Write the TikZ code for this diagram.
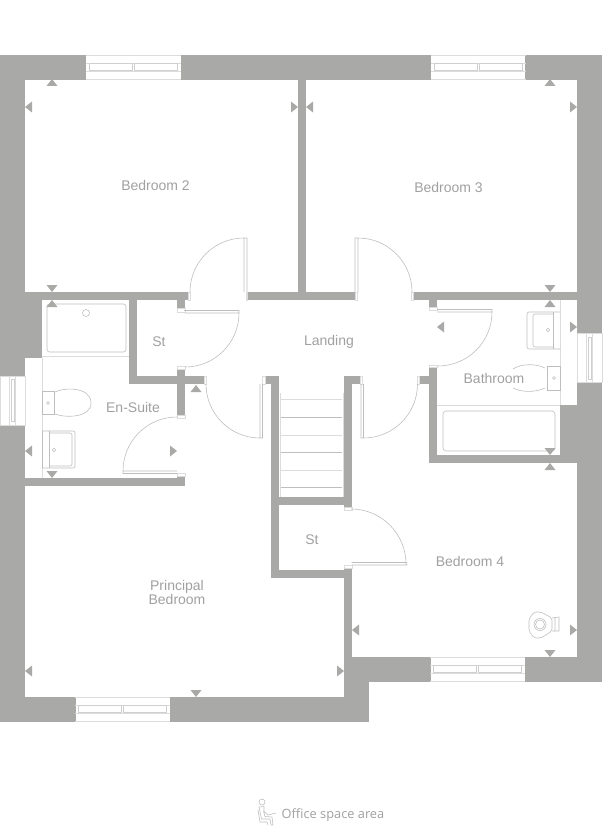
\documentclass[tikz,border=0pt]{standalone}
\usepackage{fontspec}
\setmainfont{Liberation Sans}
\newfontfamily\officefont{Open Sans}
\definecolor{wallgrey}{HTML}{A9A9A8}
\definecolor{textgrey}{HTML}{A0A0A0}
\definecolor{linegrey}{HTML}{BEBEBE}
\definecolor{palegrey}{HTML}{DCDCDC}
\definecolor{sashgrey}{HTML}{CFCFCF}
\tikzset{
  wall/.style={fill=wallgrey},
  fixture/.style={draw=linegrey,line width=.6pt},
  paleline/.style={draw=palegrey,line width=.9pt},
  sash/.style={draw=sashgrey,line width=.6pt},
  roomlabel/.style={text=textgrey,font=\fontsize{14}{14}\selectfont,align=center,inner sep=0pt},
  marker/.style={fill=wallgrey}
}
\begin{document}
\begin{tikzpicture}[x=1pt,y=-1pt]
\useasboundingbox (0,0) rectangle (602,826);

% outer walls
\fill[wall] (0,55) rectangle (86,80);
\fill[wall] (181,55) rectangle (431,80);
\fill[wall] (525,55) rectangle (602,80);
\fill[wall] (0,80) rectangle (25,376);
\fill[wall] (25,300) rectangle (42,358);
\fill[wall] (0,425) rectangle (25,722);
\fill[wall] (25,697) rectangle (76,722);
\fill[wall] (170,697) rectangle (369,722);
\fill[wall] (344,657) rectangle (369,697);
\fill[wall] (369,657) rectangle (431,682);
\fill[wall] (525,657) rectangle (602,682);
\fill[wall] (577,80) rectangle (602,333);
\fill[wall] (577,383) rectangle (602,657);

% inner walls
\fill[wall] (298,80) rectangle (306,300);
\fill[wall] (25,292) rectangle (188,300);
\fill[wall] (247,292) rectangle (355,300);
\fill[wall] (413,292) rectangle (577,300);
\fill[wall] (129,300) rectangle (137,384);
\fill[wall] (137,376) rectangle (204,384);
\fill[wall] (177,300) rectangle (185,308);
\fill[wall] (177,369) rectangle (185,415);
\fill[wall] (25,478) rectangle (185,486);
\fill[wall] (177,476) rectangle (185,478);
\fill[wall] (265,376) rectangle (279,384);
\fill[wall] (271,384) rectangle (279,578);
\fill[wall] (344,376) rectangle (360,384);
\fill[wall] (344,384) rectangle (352,507);
\fill[wall] (279,497) rectangle (344,505);
\fill[wall] (279,570) rectangle (344,578);
\fill[wall] (344,568) rectangle (352,657);
\fill[wall] (429,300) rectangle (437,307);
\fill[wall] (419,376) rectangle (429,384);
\fill[wall] (429,367) rectangle (437,463);
\fill[wall] (437,455) rectangle (577,463);
\fill[wall] (560,405) rectangle (577,455);

% door jambs
\foreach \jx/\jy/\kx/\ky in {188/292/190/300,246/292/247/300,355/292/357/300,411/292/413/300,
    177/308/185/312,177/366/185/369,177/415/185/418,177/473/185/476,204/376/206/384,
    262/376/265/384,360/376/362/384,417/376/419/384,429/365/437/367,429/307/437/310,
    344/507/352/510,344/565/352/568}
  \draw[paleline] (\jx,\jy) rectangle (\kx,\ky);

% doors
\draw[fixture] (190,292) arc (180:270:54) -- (247,238) -- (247,292) (244,238) -- (244,292);
\draw[fixture] (412,292) arc (0:-90:54) -- (355,238) -- (355,292) (358,238) -- (358,292);
\draw[fixture] (184,310.5) -- (239,310.5) -- (239,313) arc (0:90:54) (239,313) -- (185,313);
\draw[fixture] (177,417) arc (270:180:54) -- (123,473.5) -- (177,473.5) (123,471) -- (177,471);
\draw[fixture] (206,384) arc (180:90:54) -- (262.5,438) -- (262.5,384) (260,438) -- (260,384);
\draw[fixture] (417.5,384) arc (0:90:54) -- (361,438) -- (361,384) (363.5,438) -- (363.5,384);
\draw[fixture] (437,309.5) -- (492,309.5) -- (492,312) arc (0:90:54) (492,312) -- (437,312);
\draw[fixture] (351,509) arc (270:360:55) -- (407,565) -- (352,565) (351.5,562.5) -- (407,562.5);

% windows
\foreach \wx/\wy in {133.5/67.5,478/67.5,477.5/669.5,122.5/709.5}{
  \draw[paleline] (\wx-47.5,\wy-12) -- (\wx+47.5,\wy-12) (\wx-47.5,\wy+12) -- (\wx+47.5,\wy+12);
  \draw[paleline] (\wx-47.5,\wy-4.5) -- (\wx+47.5,\wy-4.5) (\wx-47.5,\wy+4) -- (\wx+47.5,\wy+4);
  \draw[sash] (\wx-44,\wy-4) rectangle (\wx-1,\wy+3) (\wx+1,\wy-4) rectangle (\wx+44,\wy+3);
}
\foreach \wx/\wy in {12.5/400.5,589.5/358}{
  \draw[paleline] (\wx-12.5,\wy-24.5) rectangle (\wx+12.5,\wy+24.5);
  \draw[paleline] (\wx-3,\wy-24.5) rectangle (\wx+3,\wy+24.5);
  \draw[sash] (\wx-1.5,\wy-21) rectangle (\wx+1.5,\wy+21);
}

% stairs
\foreach \ty/\tcol in {399.5/palegrey,417/linegrey,435/palegrey,452.5/linegrey,470/palegrey,487.5/linegrey}
  \draw[draw=\tcol,line width=.8pt] (281,\ty) -- (342,\ty);
\draw[paleline] (280,393) -- (280,497) (343,393) -- (343,497);

% en-suite fixtures
\draw[fixture,rounded corners=2.5pt] (47,304) rectangle (126,352);
\draw[fixture] (86,313) circle (3.5);
\draw[paleline] (42,356) -- (129,356);
\draw[paleline] (42,358) -- (42,478);
\draw[fixture] (42,391) rectangle (54,414);
\draw[fixture] (48,403) circle (1.5);
\draw[fixture] (55,392) .. controls (65,387) and (91,387) .. (91,403) .. controls (91,418) and (65,418) .. (55,414);
\draw[fixture,rounded corners=2pt] (42,431) -- (75,431) -- (75,468) -- (42,468);
\draw[fixture] (42,431) -- (42,468) (49,431) -- (49,468);
\draw[fixture,rounded corners=2pt] (49,433) -- (72,433) -- (72,466) -- (49,466);
\draw[fixture] (54,450) circle (1.7);

% bathroom fixtures
\draw[paleline] (437,405) -- (560,405);
\draw[paleline] (560,300) -- (560,405);
\draw[fixture,rounded corners=2pt] (560,312) -- (527,312) -- (527,349) -- (560,349);
\draw[fixture] (553,312) -- (553,349);
\draw[fixture,rounded corners=2pt] (553,314) -- (533,314) -- (533,347) -- (553,347);
\draw[fixture] (548,330) circle (1.7);
\draw[fixture] (547,366) rectangle (560,390);
\draw[fixture] (554,378) circle (1.5);
\draw[fixture] (545,368) .. controls (535,363) and (520,364) .. (513,369);
\draw[fixture] (545,388) .. controls (535,393) and (520,392) .. (513,388);
\draw[fixture,rounded corners=3pt] (443,411) rectangle (555,451);

% boiler in bedroom 4
\draw[fixture,rounded corners=2pt] (534,612) -- (541,612) -- (552,618) -- (552,631) -- (541,638) -- (534,638) -- (529,631) -- (529,619) -- cycle;
\draw[fixture] (540,624.5) circle (6);
\draw[fixture] (540,624.5) circle (4.5);
\draw[fixture] (552,618) -- (559,617) -- (559,631) -- (552,631) (555,617.5) -- (555,631);

% markers
\foreach \mx/\my in {52/79,550/79,52/300,550/300,550/463,196/385}
  \fill[marker] (\mx-5.5,\my+7) -- (\mx+5.5,\my+7) -- (\mx,\my) -- cycle;
\foreach \mx/\my in {52/292,550/292,52/478,550/455,550/657,196/697}
  \fill[marker] (\mx-5.5,\my-7) -- (\mx+5.5,\my-7) -- (\mx,\my) -- cycle;
\foreach \mx/\my in {25/107,306/107,437/327,25/451,352/630,25/671}
  \fill[marker] (\mx+7,\my-5.5) -- (\mx+7,\my+5.5) -- (\mx,\my) -- cycle;
\foreach \mx/\my in {298/107,577/107,577/327,177/451,577/630,344/671}
  \fill[marker] (\mx-7,\my-5.5) -- (\mx-7,\my+5.5) -- (\mx,\my) -- cycle;

% room names
\node[roomlabel] (bedtwo) at (155.5,185.5) {Bedroom 2};
\node[roomlabel] (bedthree) at (448.5,187.5) {Bedroom 3};
\node[roomlabel] (cupboard) at (159,341.5) {St};
\node[roomlabel] (landing) at (329,341.5) {Landing};
\node[roomlabel] (ensuite) at (133,407.5) {En-Suite};
\node[roomlabel] (bathroom) at (494,378.5) {Bathroom};
\node[roomlabel] (understairs) at (312,539.5) {St};
\node[roomlabel] (bedfour) at (470,561.5) {Bedroom 4};
\node[roomlabel] (principal) at (177,592.5) {Principal\\Bedroom};

% office key
\draw[fixture] (262,802) circle (3);
\draw[fixture,line join=round] (259,807) -- (261.5,819) -- (270,819) -- (271,825) -- (273,825) -- (272,817) -- (265,816.5) -- (263.5,811) -- (268,815) -- (276,813);
\draw[fixture,line join=round] (259,807) -- (264,806.5) -- (264,811);
\draw[fixture,line join=round] (258,810) -- (260,822) -- (267,822) -- (268,825);
\node[text=textgrey,inner sep=0pt,font=\officefont\fontsize{12.8}{14}\selectfont] (officekey) at (333,815) {Office space area};
\end{tikzpicture}
\end{document}
